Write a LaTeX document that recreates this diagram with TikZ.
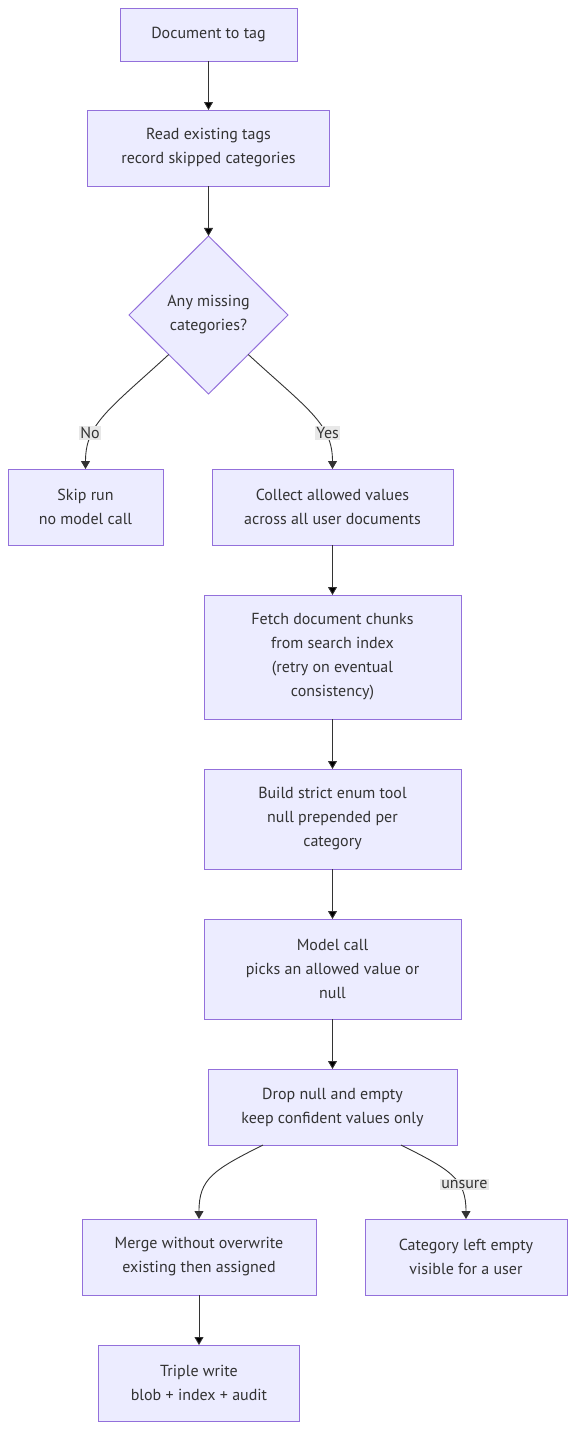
\documentclass[tikz,border=0pt]{standalone}
\usepackage{fontspec}
\setmainfont{PT Sans}
\usetikzlibrary{shapes.geometric, arrows.meta, positioning}
\definecolor{boxfill}{HTML}{ECECFF}
\definecolor{boxline}{HTML}{9370DB}
\definecolor{ink}{HTML}{333333}
\definecolor{labelbg}{HTML}{E8E8E8}
\tikzstyle{process} = [rectangle,
minimum height=76pt,
inner sep=0pt,
outer sep=0pt,
align=center,
text=ink,
draw=boxline,
fill=boxfill]
\tikzstyle{decision} = [diamond,
minimum width=159pt,
minimum height=158pt,
inner sep=0pt,
outer sep=0pt,
align=center,
text=ink,
draw=boxline,
fill=boxfill]
\tikzstyle{answer} = [fill=labelbg, text=ink, inner sep=1.5pt]
\tikzstyle{arrow} = [draw=ink, line width=0.9pt, -{Triangle[length=8pt,width=9pt]}]

\begin{document}
\begin{tikzpicture}[x=1pt, y=-1pt, node distance=50pt, line width=1pt,
    font=\fontsize{16}{24}\selectfont]
  \useasboundingbox (0,0) rectangle (583,1449);
  \node (doc) [process, minimum width=177pt, minimum height=53pt] at (208.5,34.5) {Document to tag};
  \node (read) [process, minimum width=242pt, below=49pt of doc] {Read existing tags\\record skipped categories};
  \node (missing) [decision, below=of read] {Any missing\\categories?};
  \node (collect) [process, minimum width=241pt] at (332.5,507) {Collect allowed values\\across all user documents};
  \node (skip) [process, minimum width=155pt, left=49pt of collect] {Skip run\\no model call};
  \node (fetch) [process, minimum width=257pt, minimum height=124pt, below=of collect] {Fetch document chunks\\from search index\\(retry on eventual\\consistency)};
  \node (build) [process, minimum width=257pt, minimum height=100pt, below=of fetch] {Build strict enum tool\\null prepended per\\category};
  \node (model) [process, minimum width=257pt, minimum height=100pt, below=of build] {Model call\\picks an allowed value or\\null};
  \node (drop) [process, minimum width=249pt, below=of model] {Drop null and empty\\keep confident values only};
  \node (merge) [process, minimum width=234pt] at (199,1257) {Merge without overwrite\\existing then assigned};
  \node (empty) [process, minimum width=202pt, right=49pt of merge] {Category left empty\\visible for a user};
  \node (write) [process, minimum width=201pt, below=of merge] {Triple write\\blob + index + audit};

  \draw[arrow] (doc) edge (read)
               (read) edge (missing)
               (collect) edge (fetch)
               (fetch) edge (build)
               (build) edge (model)
               (model) edge (drop)
               (merge) edge (write);
  \draw[arrow] (missing.south west) .. controls +(-60,55) and +(0,-45) .. node[answer, pos=0.68, xshift=-3pt] {No} (skip.north);
  \draw[arrow] (missing.south east) .. controls +(60,55) and +(0,-45) .. node[answer, pos=0.68, xshift=3pt] {Yes} (collect.north);
  \draw[arrow] ([xshift=-69.5pt]drop.south) .. controls +(-50,25) and +(0,-40) .. (merge.north);
  \draw[arrow] ([xshift=68.5pt]drop.south) .. controls +(50,25) and +(0,-40) .. node[answer, pos=0.62, xshift=6pt] {unsure} (empty.north);
\end{tikzpicture}
\end{document}
